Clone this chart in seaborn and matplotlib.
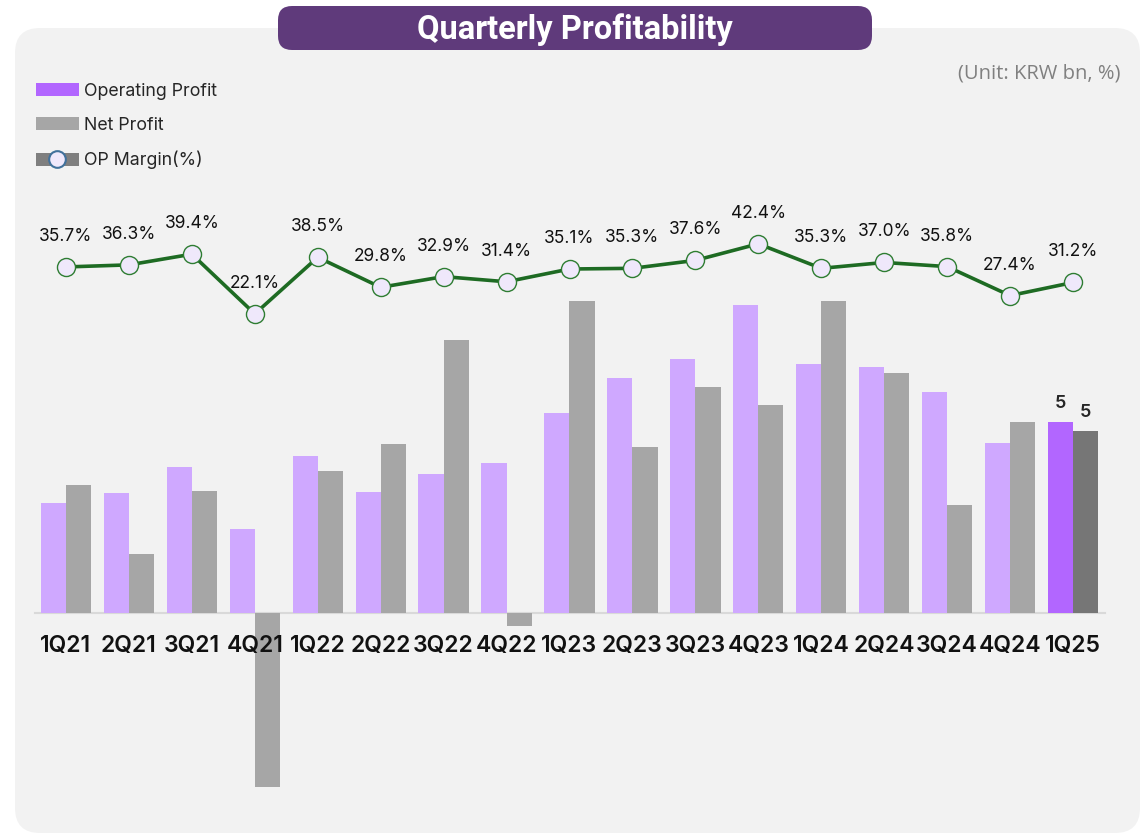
import matplotlib
matplotlib.use("Agg")
import numpy as np
import pandas as pd
import seaborn as sns
import matplotlib.pyplot as plt
from matplotlib.patches import FancyBboxPatch, Patch
from matplotlib.lines import Line2D
from matplotlib.legend_handler import HandlerTuple

# ---- data ----
quarters = ["1Q21", "2Q21", "3Q21", "4Q21", "1Q22", "2Q22", "3Q22", "4Q22",
            "1Q23", "2Q23", "3Q23", "4Q23", "1Q24", "2Q24", "3Q24", "4Q24", "1Q25"]
op_profit = [110, 120, 146, 84, 157, 121, 139, 150, 200, 235, 254, 308, 249, 246, 221, 170, 191]
net_profit = [128, 59, 122, -174, 142, 169, 273, -13, 312, 166, 226, 208, 312, 240, 108, 191, 182]
op_margin = [35.7, 36.3, 39.4, 22.1, 38.5, 29.8, 32.9, 31.4, 35.1, 35.3, 37.6, 42.4,
             35.3, 37.0, 35.8, 27.4, 31.2]
last_labels = ["5", "5"]
series_names = ["Operating Profit", "Net Profit", "OP Margin(%)"]

sns.set_theme(style="white")
plt.rcParams["font.family"] = ["Inter", "DejaVu Sans"]

W, H = 1147, 835
fig = plt.figure(figsize=(W / 100, H / 100), dpi=100)
fig.patch.set_facecolor("white")

# background panel
panel = FancyBboxPatch((0.15, 0.02), 11.25, 8.05,
                       boxstyle="round,pad=0,rounding_size=0.25",
                       transform=fig.dpi_scale_trans, facecolor="#f2f2f2",
                       edgecolor="none", zorder=0)
fig.add_artist(panel)
# title pill
pill = FancyBboxPatch((2.78, 7.85), 5.94, 0.44,
                      boxstyle="round,pad=0,rounding_size=0.14",
                      transform=fig.dpi_scale_trans, facecolor="#5f3a7b",
                      edgecolor="none", zorder=1)
fig.add_artist(pill)
fig.text(5.75 / 11.47, 1 - 30 / H, "Quarterly Profitability", ha="center", va="center",
         color="white", fontsize=23.5, fontweight="bold", family=["Roboto", "DejaVu Sans"])
fig.text(1120 / W, 1 - 73 / H, "(Unit: KRW bn, %)", ha="right", va="center",
         color="#808080", fontsize=14.5, family=["Open Sans", "DejaVu Sans"])

# bars
ax = fig.add_axes([34.5 / W, 35 / H, 1070 / W, 620 / H])
ax.set_facecolor("none")
df = pd.DataFrame({
    "Quarter": quarters * 2,
    "Series": [series_names[0]] * len(quarters) + [series_names[1]] * len(quarters),
    "Value": op_profit + net_profit,
})
sns.barplot(data=df, x="Quarter", y="Value", hue="Series",
            palette={series_names[0]: "#cfa8ff", series_names[1]: "#a6a6a6"},
            width=0.8, gap=0, saturation=1, legend=False, ax=ax, zorder=2,
            linewidth=0, edgecolor="none")
ax.containers[0][-1].set_facecolor("#b266ff")
ax.containers[1][-1].set_facecolor("#767676")
n = len(quarters)
ax.bar_label(ax.containers[0], labels=[""] * (n - 1) + [last_labels[0]], padding=7,
             fontsize=13, fontweight="semibold")
ax.bar_label(ax.containers[1], labels=[""] * (n - 1) + [last_labels[1]], padding=7,
             fontsize=13, fontweight="semibold")

ax.set_axisbelow(False)
ax.set_ylim(-187, 433)
ax.set_xlim(-0.5, n - 0.5)
for s in ["top", "right", "left"]:
    ax.spines[s].set_visible(False)
ax.spines["bottom"].set_position(("data", 0))
ax.spines["bottom"].set_color("#d9d9d9")
ax.spines["bottom"].set_linewidth(1.5)
ax.spines["bottom"].set_zorder(1)
ax.set_yticks([])
ax.set_xlabel("")
ax.set_ylabel("")
ax.tick_params(axis="x", length=0, pad=16, labelsize=16.5, colors="#111111")
for t in ax.get_xticklabels():
    t.set_fontweight("semibold")

# line
ax2 = ax.twinx()
x = np.arange(n)
sns.lineplot(x=x, y=op_margin, ax=ax2, color="#1e6b23", lw=2.6, marker="o",
             markersize=13, markerfacecolor="#efe8fb", markeredgecolor="#2e7d32",
             markeredgewidth=1.0, zorder=4)
ax2.set_ylim(-118.8, 60.9)
ax2.set_axis_off()
for i, v in enumerate(op_margin):
    ax2.annotate(f"{v:.1f}%", (i, v), xytext=(0, 22), textcoords="offset points",
                 ha="center", va="center", fontsize=12.5, color="#111111")

# legend
handles = [
    Patch(facecolor="#b266ff", edgecolor="none"),
    Patch(facecolor="#a6a6a6", edgecolor="none"),
    (Patch(facecolor="#7f7f7f", edgecolor="none"),
     Line2D([], [], marker="o", ls="", ms=12, mfc="#efe8fb", mec="#41719c", mew=1.5)),
]
fig.legend(handles, series_names, loc="upper left", bbox_to_anchor=(20 / W, 1 - 67 / H),
           frameon=False, fontsize=12.8, handlelength=2.4, handleheight=0.75,
           handletextpad=0.3, labelspacing=0.95,
           handler_map={tuple: HandlerTuple(ndivide=1)})

fig.savefig("out.png", dpi=100, facecolor="white")
